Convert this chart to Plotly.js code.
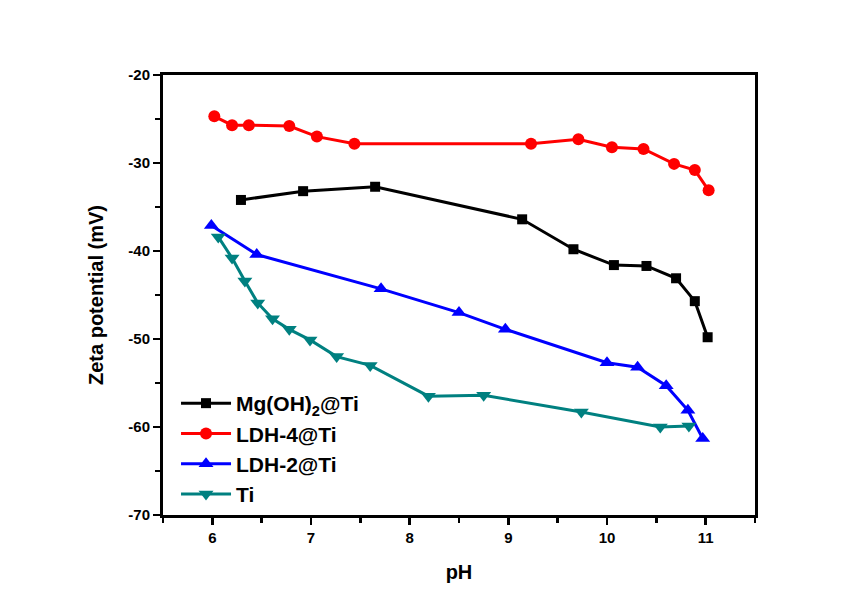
<!DOCTYPE html>
<html>
<head>
<meta charset="utf-8">
<script src="https://cdn.plot.ly/plotly-3.0.1.min.js"></script>
<style>html,body{margin:0;padding:0;background:#fff;}#chart{width:861px;height:606px;}</style>
</head>
<body>
<div id="chart"></div>
<script>
// Mg(OH)2@Ti
const phMg = [6.29, 6.92, 7.65, 9.14, 9.66, 10.07, 10.40, 10.70, 10.89, 11.02];
const zetaMg = [-34.2, -33.2, -32.7, -36.4, -39.8, -41.6, -41.7, -43.1, -45.7, -49.8];
// LDH-4@Ti
const phL4 = [6.02, 6.20, 6.37, 6.78, 7.06, 7.44, 9.23, 9.71, 10.05, 10.37, 10.68, 10.89, 11.03];
const zetaL4 = [-24.7, -25.7, -25.7, -25.8, -27.0, -27.8, -27.8, -27.3, -28.2, -28.4, -30.1, -30.8, -33.1];
// LDH-2@Ti
const phL2 = [5.99, 6.45, 7.71, 8.50, 8.97, 10.00, 10.31, 10.60, 10.82, 10.97];
const zetaL2 = [-37.1, -40.4, -44.3, -47.0, -48.9, -52.7, -53.2, -55.3, -58.1, -61.3];
// Ti
const phTi = [6.06, 6.20, 6.33, 6.46, 6.61, 6.78, 6.99, 7.26, 7.60, 8.19, 8.75, 9.74, 10.54, 10.83];
const zetaTi = [-38.4, -40.8, -43.4, -45.9, -47.7, -48.9, -50.1, -52.0, -53.0, -56.5, -56.4, -58.3, -60.0, -59.9];

// tick labels
const yTickVals = [-70, -60, -50, -40, -30, -20];
const yTickText = ['-70', '-60', '-50', '-40', '-30', '-20'];
const xTickVals = [6, 7, 8, 9, 10, 11];
const xTickText = ['6', '7', '8', '9', '10', '11'];

const names = ['Mg(OH)<sub>2</sub>@Ti', 'LDH-4@Ti', 'LDH-2@Ti', 'Ti'];
const colors = ['#000000', '#ff0000', '#0000ff', '#008080'];
const symbols = ['square', 'circle', 'triangle-up', 'triangle-down'];
const sizes = [10, 12, 13, 13];
const xs = [phMg, phL4, phL2, phTi];
const ys = [zetaMg, zetaL4, zetaL2, zetaTi];

const traces = xs.map((x, i) => ({
  x: x, y: ys[i], name: names[i], type: 'scatter', mode: 'lines+markers',
  legendgroup: 'g' + i,
  line: {color: colors[i], width: 3},
  marker: {color: colors[i], symbol: symbols[i], size: sizes[i]}
}));

const fam = 'Liberation Sans, Arial, sans-serif';
const layout = {
  width: 861, height: 606,
  margin: {l: 163, r: 106, t: 75, b: 91},
  paper_bgcolor: '#ffffff', plot_bgcolor: '#ffffff',
  showlegend: true,
  legend: {x: 0.022, y: 0.3, xanchor: 'left', yanchor: 'top', bgcolor: 'rgba(0,0,0,0)',
    itemwidth: 50, tracegroupgap: 0, traceorder: 'grouped',
    font: {family: fam, size: 21, color: '#000', weight: 'bold'}},
  xaxis: {
    range: [5.5, 11.5], tickmode: 'array', tickvals: xTickVals, ticktext: xTickText,
    showgrid: false, zeroline: false,
    showline: true, linecolor: '#000', linewidth: 3, mirror: true,
    ticks: 'outside', ticklen: 7, tickwidth: 2.5, tickcolor: '#000',
    minor: {dtick: 0.5, tick0: 5.5, ticks: 'outside', ticklen: 5, tickwidth: 2.5, tickcolor: '#000'},
    tickfont: {family: fam, size: 15, color: '#000', weight: 'bold'},
    title: {text: 'pH', font: {family: fam, size: 20, color: '#000', weight: 'bold'}, standoff: 20}
  },
  yaxis: {
    range: [-70, -20], tickmode: 'array', tickvals: yTickVals, ticktext: yTickText,
    showgrid: false, zeroline: false,
    showline: true, linecolor: '#000', linewidth: 3, mirror: true,
    ticks: 'outside', ticklen: 7, tickwidth: 2.5, tickcolor: '#000',
    minor: {dtick: 5, tick0: -70, ticks: 'outside', ticklen: 5, tickwidth: 2.5, tickcolor: '#000'},
    tickfont: {family: fam, size: 15, color: '#000', weight: 'bold'},
    title: {text: 'Zeta potential (mV)', font: {family: fam, size: 20, color: '#000', weight: 'bold'}, standoff: 20}
  }
};

Plotly.newPlot('chart', traces, layout, {displayModeBar: false, staticPlot: true});
</script>
</body>
</html>
